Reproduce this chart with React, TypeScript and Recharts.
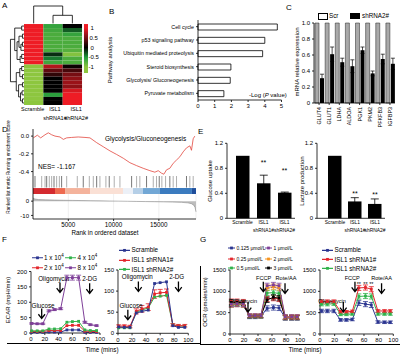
import React from "react";
import {
  BarChart,
  Bar,
  LineChart,
  Line,
  ComposedChart,
  Area,
  Scatter,
  XAxis,
  YAxis,
  ErrorBar,
  ReferenceLine,
  ReferenceArea,
  ReferenceDot,
  CartesianGrid,
} from "recharts";

const FONT = "'Liberation Sans', Arial, sans-serif";
const BLUE = "#2b3590";
const RED = "#e3262c";
const GREEN = "#2fb24a";
const PURPLE = "#7e3f98";
const ORANGE = "#f7941d";

// ---------- A: heatmap ----------
const heatCols = ["Scramble", "ISL1 shRNA1#", "ISL1 shRNA2#"];
const heatScramble = [1, 1, 1, 1, 1, 1, 1, 1, 1, 1, -1, -1, -1, -1, -1, -1, -1, -1, -1, -1];
const heatShRNA1 = [-0.6, -0.65, -0.7, -0.7, -0.7, -0.7, -0.7, -0.15, -0.4, -0.65, 0.75, 0.4, 0.2, 0, 0, 0, 0, -0.55, 0, 0];
const heatShRNA2 = [0, -0.3, -0.6, -0.7, -0.7, -0.7, -0.75, -0.95, -0.7, -0.7, 0.05, 0.3, 0.5, 0.6, 0.65, 0.6, 0.9, 1, 1, 1];
// [left node, right node, height]; leaves are rows 0..19, merges get ids from 20
const rowMerges = [
  [0, 1, 0.12], [2, 3, 0.08], [4, 5, 0.08], [22, 6, 0.16], [21, 23, 0.26],
  [7, 8, 0.12], [25, 9, 0.2], [24, 26, 0.36], [20, 27, 0.48],
  [10, 11, 0.12], [12, 13, 0.08], [29, 30, 0.22], [14, 15, 0.08], [16, 17, 0.1],
  [18, 19, 0.08], [33, 34, 0.18], [32, 35, 0.28], [31, 36, 0.4], [28, 37, 0.7],
];
const colMerges = [[1, 2, 2.0], [0, 3, 4.3]];
// where the column names sit under the heatmap (column units)
const heatLabelAt = [0.45, 1.6, 2.7];

// ---------- B ----------
const pathways = [
  "Cell cycle",
  "p53 signaling pathway",
  "Ubiquitin mediated proteolysis",
  "Steroid biosynthesis",
  "Glycolysis/ Gluconeogenesis",
  "Pyruvate metabolism",
];
const pathwayLogP = [4.75, 4.0, 3.87, 1.97, 1.93, 1.55];

// ---------- C ----------
const genes = ["GLUT4", "GLUT1", "LDHA", "ALDOA", "PGK1", "PKM2", "PFKFB3", "IGFBP3"];
const scrExpr = [1, 1, 1, 1, 1, 1, 1, 1];
const sh2Expr = [0.31, 0.61, 0.51, 0.46, 0.66, 0.37, 0.55, 0.49];
const sh2Err = [0.05, 0.09, 0.05, 0.08, 0.04, 0.03, 0.06, 0.07];

// ---------- D: GSEA ----------
const esRank = [1140, 1580, 1950, 2430, 2790, 3160, 3530, 4080, 4450, 4820, 5370, 6100, 6840, 7390, 8130, 8860, 9600, 10330, 11070, 11800, 12540, 13270, 14010, 14560, 14930, 15290, 15550, 15850, 16210, 16580, 16950, 17320, 17680, 18050, 18420, 18600, 18790, 18970];
const esScore = [-0.02, 0.01, -0.02, 0.015, 0.037, 0.015, 0, -0.01, -0.037, -0.02, -0.015, -0.01, -0.015, -0.02, -0.074, -0.12, -0.167, -0.207, -0.25, -0.3, -0.333, -0.363, -0.39, -0.407, -0.39, -0.418, -0.43, -0.38, -0.363, -0.307, -0.27, -0.233, -0.178, -0.133, -0.11, -0.16, -0.03, 0];
const hitRanks = [1320, 2060, 2430, 2610, 2900, 3160, 3420, 3710, 4010, 4260, 4820, 5990, 6650, 7320, 7760, 8130, 8490, 9150, 9520, 10070, 10700, 11990, 12540, 12900, 13640, 14380, 14740, 15040, 15330, 15740, 16210, 16580, 16950, 18050, 18420, 18790];
const bandEdges = [1100, 3530, 4640, 7400, 11040, 12140, 13250, 15120, 18650, 19100];
const bandColors = ["#d42a2f", "#ee6a50", "#f4b39c", "#fae0d5", "#ecf0f7", "#b5cfe7", "#72a7d5", "#3b7bbf", "#1f4e9b"];
const metricRank = [1100, 1300, 1700, 2500, 3500, 4500, 5500, 6500, 7500, 8500, 9500, 10500, 11500, 12500, 13500, 14500, 15500, 16500, 17500, 18200, 18600, 18850, 19000, 19100];
const metricValue = [2.2, 1.5, 1.1, 0.9, 0.75, 0.6, 0.5, 0.4, 0.3, 0.2, 0.1, 0, -0.1, -0.2, -0.3, -0.4, -0.5, -0.65, -0.85, -1.2, -1.8, -2.8, -4.5, -7.5];

// ---------- E ----------
const eGroups = ["Scramble", "ISL1 shRNA1#", "ISL1 shRNA2#"];
const glucoseUptake = [1.0, 0.56, 0.41];
const glucoseErr = [0, 0.13, 0.01];
const lactateProd = [1.0, 0.27, 0.23];
const lactateErr = [0, 0.06, 0.08];

// ---------- F: ECAR ----------
const fTimes = [1, 9, 17, 26, 34, 43, 52, 60, 69, 78, 86, 95];
const ecar1e4 = [2, 2, 2, 3, 3, 3, 10, 10, 10, 2, 2, 2];
const ecar2e4 = [5, 5, 5, 8, 8, 8, 24, 25, 25, 6, 5, 5];
const ecar4e4 = [7, 7, 7, 13, 13, 14, 35, 37, 38, 10, 8, 8];
const ecar8e4 = [31, 30, 30, 72, 76, 79, 180, 180, 180, 35, 27, 24];
const ecarErr8e4 = [2, 2, 2, 3, 3, 3, 8, 8, 8, 3, 2, 2];
const ecarScr = [15, 14, 14, 48, 52, 55, 118, 120, 122, 18, 14, 14];
const ecarSh1 = [17, 17, 16, 52, 58, 62, 93, 96, 97, 20, 18, 18];
const ecarSh2 = [13, 13, 13, 50, 55, 60, 86, 88, 90, 20, 17, 17];
const ecarSh1Err = [3, 3, 3, 6, 8, 8, 10, 8, 8, 3, 3, 3];

// ---------- G: OCR ----------
const gTimes = [2, 10, 19, 28, 36, 44, 53, 62, 70, 79, 88, 96];
const ocr0125 = [690, 700, 690, 400, 400, 410, 600, 620, 610, 380, 380, 380];
const ocr025 = [760, 760, 750, 430, 430, 430, 820, 840, 820, 400, 400, 400];
const ocr05 = [720, 720, 720, 420, 420, 420, 960, 970, 950, 390, 390, 390];
const ocr1 = [700, 710, 700, 430, 430, 430, 1130, 1150, 1130, 400, 400, 400];
const ocr2 = [690, 700, 690, 420, 420, 420, 1090, 1110, 1090, 390, 390, 390];
const ocr3 = [740, 740, 730, 420, 420, 420, 800, 860, 840, 380, 380, 380];
const ocrLeftErr = [60, 60, 60, 40, 40, 40, 60, 60, 60, 50, 50, 50];
const ocrScr = [540, 540, 540, 330, 330, 340, 730, 700, 680, 280, 275, 275];
const ocrSh1 = [760, 760, 760, 520, 520, 530, 1080, 1090, 1050, 540, 540, 540];
const ocrSh2 = [700, 700, 710, 460, 460, 470, 880, 890, 880, 470, 470, 470];
const ocrRightErr = [40, 40, 40, 30, 30, 30, 60, 60, 60, 30, 30, 30];

// ---------- helpers ----------
const tk = { fontSize: 6, fill: "#000", fontFamily: FONT };
const axisProps = { stroke: "#000", strokeWidth: 0.8, tickSize: 2, tick: tk };

function heatColor(v: number) {
  const mix = (a: number[], b: number[], t: number) => a.map((x, i) => Math.round(x + (b[i] - x) * t));
  let c: number[];
  if (v >= 0) c = mix([0, 0, 0], [238, 28, 37], Math.min(v, 1));
  else if (v > -0.5) c = mix([0, 0, 0], [31, 154, 60], -v / 0.5);
  else c = mix([31, 154, 60], [141, 198, 63], Math.min((-v - 0.5) / 0.5, 1));
  return `rgb(${c.join(",")})`;
}

// dendrogram brackets in (leaf position, height) pairs
function treeSegments(merges: number[][], nLeaves: number) {
  const pos = Array.from({ length: nLeaves }, (_, i) => i + 0.5);
  const hgt: number[] = Array(nLeaves).fill(0);
  const segs: number[][][] = [];
  merges.forEach(([a, b, h]) => {
    segs.push([[pos[a], hgt[a]], [pos[a], h]]);
    segs.push([[pos[a], h], [pos[b], h]]);
    segs.push([[pos[b], h], [pos[b], hgt[b]]]);
    pos.push((pos[a] + pos[b]) / 2);
    hgt.push(h);
  });
  return segs;
}

const Txt = ({ x, y, size = 6, anchor = "start", rot = false, children, style }: any) => {
  const tx = anchor === "middle" || rot ? "-50%" : anchor === "end" ? "-100%" : "0";
  return (
    <div
      style={{
        position: "absolute",
        left: x,
        top: y,
        fontSize: size,
        lineHeight: 1,
        whiteSpace: "nowrap",
        transform: `translate(${tx}, -50%)${rot ? " rotate(-90deg)" : ""}`,
        ...style,
      }}
    >
      {children}
    </div>
  );
};

const Box = ({ x, y, children }: any) => (
  <div style={{ position: "absolute", left: x, top: y }}>{children}</div>
);

const LegendItem = ({ x, y, color, size = 6.3, lineW = 11, children }: any) => (
  <div style={{ position: "absolute", left: x, top: y, transform: "translateY(-50%)", display: "flex", alignItems: "center", fontSize: size, lineHeight: 1, whiteSpace: "nowrap" }}>
    <svg width={lineW} height={5} style={{ marginRight: 1.5 }}>
      <line x1={0} y1={2.5} x2={lineW} y2={2.5} stroke={color} strokeWidth={1.1} />
      <rect x={lineW / 2 - 1.4} y={1.1} width={2.8} height={2.8} fill={color} />
    </svg>
    <span>{children}</span>
  </div>
);

const sqDot = (color: string) => (p: any) =>
  p.cx == null ? <g key={p.index} /> : <rect key={p.index} x={p.cx - 1.4} y={p.cy - 1.4} width={2.8} height={2.8} fill={color} />;

const ArrowShape = (p: any) => (
  <path
    d={`M${p.cx},${p.cy - 10}V${p.cy}M${p.cx - 3.3},${p.cy - 4.3}L${p.cx},${p.cy}L${p.cx + 3.3},${p.cy - 4.3}`}
    stroke="#000"
    strokeWidth={1.3}
    fill="none"
  />
);
const textShape = (label: string, size = 6.3) => (p: any) => (
  <text x={p.cx} y={p.cy} textAnchor="middle" dominantBaseline="central" fontSize={size} fontFamily={FONT} fill="#000">
    {label}
  </text>
);

function renderNotes(list: any[], size: number) {
  return list.flatMap((n, i) => [
    <ReferenceDot key={`a${i}`} x={n.ax} y={n.ay} r={0} shape={ArrowShape} ifOverflow="visible" />,
    <ReferenceDot key={`t${i}`} x={n.tx} y={n.ty} r={0} shape={textShape(n.text, size)} ifOverflow="visible" />,
  ]);
}

// ---------- panels ----------
function Heatmap() {
  const values = [heatScramble, heatShRNA1, heatShRNA2];
  const centers = values.flatMap((col, c) => col.map((_, r) => ({ x: c + 0.5, y: r + 0.5 })));
  const rowSegs = treeSegments(rowMerges, heatScramble.length);
  const colSegs = treeSegments(colMerges, heatCols.length);
  const HeatTick = (p: any) => {
    const lines = heatCols[Math.floor(p.payload.value)].split(" ");
    return (
      <text x={p.x} y={p.y} textAnchor="middle" fontSize={5.5} fontFamily={FONT} fill="#000">
        {lines.map((l, i) => (
          <tspan key={i} x={p.x} dy={i === 0 ? 5.5 : 9.5}>
            {l}
          </tspan>
        ))}
      </text>
    );
  };
  return (
    <ComposedChart width={101} height={124} margin={{ top: 5, right: 12.2, bottom: 0, left: 9.5 }}>
      <defs>
        <linearGradient id="hmGrad" x1="0" y1="0" x2="0" y2="1">
          <stop offset="0" stopColor="#ee1c25" />
          <stop offset="0.08" stopColor="#ee1c25" />
          <stop offset="0.28" stopColor="#771218" />
          <stop offset="0.48" stopColor="#000" />
          <stop offset="0.68" stopColor="#1f9a3c" />
          <stop offset="0.88" stopColor="#8dc63f" />
          <stop offset="1" stopColor="#8dc63f" />
        </linearGradient>
      </defs>
      <XAxis type="number" dataKey="x" domain={[-0.75, 3.35]} ticks={heatLabelAt} interval={0} axisLine={false} tickLine={false} tickSize={0} tickMargin={0} height={19} tick={HeatTick} allowDataOverflow />
      <YAxis type="number" dataKey="y" domain={[-4.7, 20]} reversed hide allowDataOverflow />
      <Scatter data={centers} shape={() => <g />} isAnimationActive={false} />
      {values.flatMap((col, c) =>
        col.map((v, r) => (
          <ReferenceArea key={`c${c}-${r}`} x1={c} x2={c + 1} y1={r} y2={r + 1} fill={heatColor(v)} fillOpacity={1} stroke="none" ifOverflow="visible" />
        ))
      )}
      {rowSegs.map((s, i) => (
        <ReferenceLine key={`r${i}`} segment={[{ x: -s[0][1], y: s[0][0] }, { x: -s[1][1], y: s[1][0] }]} stroke="#000" strokeWidth={0.8} ifOverflow="visible" />
      ))}
      {colSegs.map((s, i) => (
        <ReferenceLine key={`k${i}`} segment={[{ x: s[0][0], y: -s[0][1] - 0.15 }, { x: s[1][0], y: -s[1][1] - 0.15 }]} stroke="#000" strokeWidth={0.8} ifOverflow="visible" />
      ))}
      <ReferenceArea x1={3.1} x2={3.31} y1={0} y2={12.1} fill="url(#hmGrad)" fillOpacity={1} stroke="none" ifOverflow="visible" />
    </ComposedChart>
  );
}

function PathwayChart() {
  const data = pathways.map((name, i) => ({ name, value: pathwayLogP[i] }));
  const PTick = (p: any) => (
    <text x={p.x} y={p.y} textAnchor="end" dominantBaseline="central" fontSize={5.3} fontFamily={FONT} fill="#000">
      {p.payload.value}
    </text>
  );
  return (
    <BarChart layout="vertical" width={182.5} height={97} data={data} margin={{ top: 5, right: 4, bottom: 0, left: 0 }}>
      <XAxis type="number" domain={[0, 5]} ticks={[0, 1, 2, 3, 4, 5]} height={12} {...axisProps} />
      <YAxis type="category" dataKey="name" width={95} interval={0} {...axisProps} tick={PTick} />
      <Bar dataKey="value" fill="#fff" stroke="#000" strokeWidth={0.8} barSize={6} isAnimationActive={false} />
    </BarChart>
  );
}

function ExpressionChart() {
  const data = genes.map((g, i) => ({ g, scr: scrExpr[i], sh: sh2Expr[i], err: sh2Err[i] }));
  const RotTick = (p: any) => (
    <text x={p.x} y={p.y} transform={`rotate(-90 ${p.x} ${p.y})`} textAnchor="end" dominantBaseline="central" fontSize={5.4} fontFamily={FONT} fill="#000">
      {p.payload.value}
    </text>
  );
  return (
    <BarChart width={110} height={133} data={data} margin={{ top: 23, right: 5, bottom: 0, left: 0 }} barGap={1} barCategoryGap={1}>
      <XAxis dataKey="g" interval={0} height={30} {...axisProps} tick={RotTick} />
      <YAxis domain={[0, 1]} ticks={[0, 0.2, 0.4, 0.6, 0.8, 1]} tickFormatter={(v: number) => (v === 0 ? "0" : v.toFixed(1))} width={24} {...axisProps} />
      <Bar dataKey="scr" fill="#a9a9a9" stroke="#222" strokeWidth={0.5} barSize={4} isAnimationActive={false} />
      <Bar dataKey="sh" fill="#000" barSize={4} isAnimationActive={false}>
        <ErrorBar dataKey="err" width={2} stroke="#000" strokeWidth={0.7} direction="y" />
      </Bar>
    </BarChart>
  );
}

function EsChart() {
  const data = esRank.map((rank, i) => ({ rank, es: esScore[i] }));
  return (
    <LineChart width={200} height={56} data={data} margin={{ top: 9, right: 4, bottom: 0, left: 0 }}>
      <XAxis type="number" dataKey="rank" domain={[1100, 19100]} hide />
      <YAxis domain={[-0.45, 0.08]} ticks={[0, -0.1, -0.2, -0.3, -0.4]} tickFormatter={(v: number) => v.toFixed(1)} width={33} {...axisProps} />
      <Line dataKey="es" stroke="#e2463e" strokeWidth={0.8} dot={false} isAnimationActive={false} />
    </LineChart>
  );
}

function HitsChart() {
  const data = hitRanks.map((rank) => ({ rank, y: 0.7 }));
  return (
    <ComposedChart width={200} height={18} data={data} margin={{ top: 0, right: 4, bottom: 0, left: 0 }}>
      <XAxis type="number" dataKey="rank" domain={[1100, 19100]} hide />
      <YAxis type="number" dataKey="y" domain={[0, 1]} width={33} tick={false} tickLine={false} stroke="#000" strokeWidth={0.8} />
      <Scatter data={data} shape={() => <g />} isAnimationActive={false} />
      {bandColors.map((c, i) => (
        <ReferenceArea key={`b${i}`} x1={bandEdges[i]} x2={bandEdges[i + 1]} y1={0} y2={0.33} fill={c} fillOpacity={1} stroke="none" />
      ))}
      {hitRanks.map((r, i) => (
        <ReferenceLine key={`h${i}`} segment={[{ x: r, y: 0.36 }, { x: r, y: 1 }]} stroke={i % 3 === 0 ? "#555" : "#9a9a9a"} strokeWidth={0.8} />
      ))}
    </ComposedChart>
  );
}

function MetricChart() {
  const data = metricRank.map((rank, i) => ({ rank, m: metricValue[i] }));
  return (
    <ComposedChart width={200} height={43} data={data} margin={{ top: 4, right: 4, bottom: 0, left: 0 }}>
      <CartesianGrid horizontal={false} stroke="#e6e6e6" strokeWidth={0.6} />
      <XAxis type="number" dataKey="rank" domain={[1100, 19100]} ticks={[5000, 10000, 15000]} height={14} {...axisProps} tick={{ ...tk, fontSize: 6.3 }} />
      <YAxis domain={[-12.5, 5]} ticks={[5, 0, -5, -10]} width={33} {...axisProps} />
      <Area dataKey="m" baseValue={0} stroke="#8c8c8c" strokeWidth={0.6} fill="#bdbdbd" fillOpacity={1} isAnimationActive={false} />
    </ComposedChart>
  );
}

function EBarChart({ values, errs, stars, padLeft }: any) {
  const data = eGroups.map((g, i) => ({ g, v: values[i], e: errs[i] }));
  const ETick = (p: any) => {
    const lines = p.payload.value.split(" ");
    return (
      <text x={p.x} y={p.y} textAnchor="middle" fontSize={4.9} fontFamily={FONT} fill="#000">
        {lines.map((l: string, i: number) => (
          <tspan key={i} x={p.x} dy={i === 0 ? 5.2 : 8}>
            {l}
          </tspan>
        ))}
      </text>
    );
  };
  return (
    <BarChart width={98} height={100} data={data} margin={{ top: 8.3, right: 3, bottom: 0, left: 0 }}>
      <XAxis dataKey="g" interval={0} height={16.7} stroke="#000" strokeWidth={0.8} tickLine={false} tickSize={0} tickMargin={0} tick={ETick} padding={{ left: padLeft, right: 0 }} />
      <YAxis domain={[0, 1.2]} ticks={[0, 0.4, 0.8, 1.2]} tickFormatter={(v: number) => (v === 0 ? "0" : v.toFixed(1))} width={27} {...axisProps} />
      <Bar dataKey="v" fill="#000" barSize={13.5} isAnimationActive={false}>
        <ErrorBar dataKey="e" width={4} stroke="#000" strokeWidth={0.8} direction="y" />
      </Bar>
      {stars.map((s: number, i: number) =>
        s == null ? null : <ReferenceDot key={i} x={eGroups[i]} y={s} r={0} shape={textShape("**", 7)} ifOverflow="visible" />
      )}
    </BarChart>
  );
}

function TimeChart({ times, series, domain, yTicks, yWidth, width, height, top, notes, noteSize = 6.3, extra }: any) {
  const data = times.map((t: number, i: number) => {
    const row: any = { t };
    series.forEach((s: any) => {
      row[s.key] = s.vals[i];
      if (s.err) row[s.key + "e"] = s.err[i];
    });
    return row;
  });
  return (
    <LineChart width={width} height={height} data={data} margin={{ top, right: 6, bottom: 0, left: 0 }}>
      <XAxis type="number" dataKey="t" domain={[0, 100]} ticks={[0, 20, 40, 60, 80, 100]} height={12} {...axisProps} />
      <YAxis domain={domain} ticks={yTicks} width={yWidth} {...axisProps} />
      {series.map((s: any) => (
        <Line key={s.key} dataKey={s.key} stroke={s.color} strokeWidth={1} dot={sqDot(s.color)} isAnimationActive={false}>
          {s.err ? <ErrorBar dataKey={s.key + "e"} width={2.5} stroke={s.color} strokeWidth={0.8} direction="y" /> : null}
        </Line>
      ))}
      {renderNotes(notes, noteSize)}
      {extra}
    </LineChart>
  );
}

const fLeftNotes = [
  { text: "Glucose", tx: 17.5, ty: 90, ax: 15.5, ay: 47 },
  { text: "Oligomycin", tx: 33, ty: 178, ax: 42, ay: 132 },
  { text: "2-DG", tx: 85, ty: 178, ax: 85, ay: 129 },
];
const fRightNotes = [
  { text: "Glucose", tx: 18.5, ty: 67, ax: 14, ay: 32 },
  { text: "Oligomycin", tx: 27.5, ty: 135, ax: 29, ay: 99 },
  { text: "2-DG", tx: 83.5, ty: 135, ax: 86, ay: 99 },
];
const gLeftNotes = [
  { text: "Oligomycin", tx: 19, ty: 773, ax: 25.7, ay: 515 },
  { text: "FCCP", tx: 48, ty: 1305, ax: 47.6, ay: 990 },
  { text: "Rote/AA", tx: 80, ty: 1305, ax: 78.6, ay: 953 },
];
const gRightNotes = [
  { text: "Oligomycin", tx: 16.4, ty: 773, ax: 31.8, ay: 515 },
  { text: "FCCP", tx: 44, ty: 1305, ax: 47.7, ay: 990 },
  { text: "Rote/AA", tx: 84, ty: 1305, ax: 84, ay: 953 },
];

export default function App() {
  const fLeftSeries = [
    { key: "a", color: BLUE, vals: ecar1e4 },
    { key: "b", color: RED, vals: ecar2e4 },
    { key: "c", color: GREEN, vals: ecar4e4 },
    { key: "d", color: PURPLE, vals: ecar8e4, err: ecarErr8e4 },
  ];
  const fRightSeries = [
    { key: "s2", color: GREEN, vals: ecarSh2 },
    { key: "s1", color: RED, vals: ecarSh1, err: ecarSh1Err },
    { key: "sc", color: BLUE, vals: ecarScr },
  ];
  const gLeftSeries = [
    { key: "a", color: BLUE, vals: ocr0125, err: ocrLeftErr },
    { key: "b", color: RED, vals: ocr025, err: ocrLeftErr },
    { key: "c", color: GREEN, vals: ocr05, err: ocrLeftErr },
    { key: "f", color: "#000", vals: ocr3, err: ocrLeftErr },
    { key: "e", color: ORANGE, vals: ocr2, err: ocrLeftErr },
    { key: "d", color: PURPLE, vals: ocr1, err: ocrLeftErr },
  ];
  const gRightSeries = [
    { key: "sc", color: BLUE, vals: ocrScr, err: ocrRightErr },
    { key: "s2", color: GREEN, vals: ocrSh2, err: ocrRightErr },
    { key: "s1", color: RED, vals: ocrSh1, err: ocrRightErr },
  ];
  const gStars = [53, 62, 70].map((t) => (
    <ReferenceDot key={`st${t}`} x={t} y={1180} r={0} shape={textShape("**", 5.5)} ifOverflow="visible" />
  ));

  return (
    <div style={{ position: "absolute", left: 0, top: 0, width: 400, height: 356, overflow: "hidden", background: "#fff", color: "#000", fontFamily: FONT }}>
      {/* panel letters */}
      <Txt x={2} y={6} size={8}>A</Txt>
      <Txt x={109} y={12} size={8}>B</Txt>
      <Txt x={286} y={8} size={8}>C</Txt>
      <Txt x={2} y={130} size={8}>D</Txt>
      <Txt x={198} y={132} size={8}>E</Txt>
      <Txt x={2} y={240} size={8}>F</Txt>
      <Txt x={200} y={240} size={8}>G</Txt>

      {/* A */}
      <Box x={0} y={0}>
        <Heatmap />
      </Box>
      <Txt x={90.5} y={28}>1</Txt>
      <Txt x={89.5} y={38}>0.5</Txt>
      <Txt x={90.5} y={47.5}>0</Txt>
      <Txt x={88.5} y={57}>-0.5</Txt>
      <Txt x={88.5} y={67}>-1</Txt>

      {/* B */}
      <Box x={103} y={15}>
        <PathwayChart />
      </Box>
      <Txt x={110} y={60} rot>Pathway analysis</Txt>
      <Txt x={249} y={95}>
        -Log (<i>P</i> value)
      </Txt>

      {/* C */}
      <Box x={290} y={0}>
        <ExpressionChart />
      </Box>
      <div style={{ position: "absolute", left: 318, top: 13, width: 8, height: 5, border: "0.8px solid #000", background: "#fff" }} />
      <Txt x={329} y={15.8} size={6.3}>Scr</Txt>
      <div style={{ position: "absolute", left: 350, top: 13, width: 10, height: 6, background: "#000" }} />
      <Txt x={362} y={15.8} size={6.3}>shRNA2#</Txt>
      <Txt x={297} y={62} rot>mRNA relative expression</Txt>

      {/* D */}
      <Box x={0} y={120}>
        <EsChart />
      </Box>
      <Box x={0} y={176}>
        <HitsChart />
      </Box>
      <Box x={0} y={190}>
        <MetricChart />
      </Box>
      <Txt x={105} y={139} size={6.5}>Glycolysis/Gluconeogenesis</Txt>
      <Txt x={38} y={167} size={6.5}>NES= -1.167</Txt>
      <Txt x={8.5} y={167} size={4.7} rot>Ranked list metric Running enrichment score</Txt>
      <Txt x={105} y={233} size={6.3} anchor="middle">Rank in ordered dataset</Txt>

      {/* E */}
      <Box x={200} y={135}>
        <EBarChart values={glucoseUptake} errs={glucoseErr} stars={[null, 0.9, 0.76]} padLeft={5} />
      </Box>
      <Box x={290} y={135}>
        <EBarChart values={lactateProd} errs={lactateErr} stars={[null, 0.4, 0.38]} padLeft={8} />
      </Box>
      <Txt x={210} y={181} rot>Glucose uptake</Txt>
      <Txt x={302} y={181} rot>Lactate production</Txt>

      {/* F */}
      <Box x={0} y={265}>
        <TimeChart times={fTimes} series={fLeftSeries} domain={[0, 200]} yTicks={[0, 50, 100, 150, 200]} yWidth={31} width={106} height={80} top={6.5} notes={fLeftNotes} />
      </Box>
      <Box x={90} y={264}>
        <TimeChart times={fTimes} series={fRightSeries} domain={[0, 150]} yTicks={[0, 50, 100, 150]} yWidth={28} width={104.3} height={81.3} top={6} notes={fRightNotes} />
      </Box>
      <LegendItem x={31.5} y={257.7} color={BLUE}>1 x 10<sup style={{ fontSize: 4.5 }}>4</sup></LegendItem>
      <LegendItem x={65} y={257.7} color={GREEN}>4 x 10<sup style={{ fontSize: 4.5 }}>4</sup></LegendItem>
      <LegendItem x={31.5} y={268.3} color={RED}>2 x 10<sup style={{ fontSize: 4.5 }}>4</sup></LegendItem>
      <LegendItem x={65} y={268.3} color={PURPLE}>8 x 10<sup style={{ fontSize: 4.5 }}>4</sup></LegendItem>
      <LegendItem x={119} y={250} color={BLUE}>Scramble</LegendItem>
      <LegendItem x={119} y={260} color={RED}>ISL1 shRNA1#</LegendItem>
      <LegendItem x={119} y={269.5} color={GREEN}>ISL1 shRNA2#</LegendItem>
      <Txt x={8} y={300} rot>ECAR (mpH/min)</Txt>
      <div style={{ position: "absolute", left: 7, top: 343, width: 193, height: 0, borderTop: "0.8px solid #000" }} />
      <Txt x={102} y={350} size={6.3} anchor="middle">Time (mins)</Txt>

      {/* G */}
      <Box x={200} y={264}>
        <TimeChart times={gTimes} series={gLeftSeries} domain={[0, 1500]} yTicks={[0, 500, 1000, 1500]} yWidth={30} width={106} height={82} top={6} notes={gLeftNotes} noteSize={5.6} />
      </Box>
      <Box x={290} y={264}>
        <TimeChart times={gTimes} series={gRightSeries} domain={[0, 1500]} yTicks={[0, 500, 1000, 1500]} yWidth={30} width={109.3} height={82} top={6} notes={gRightNotes} noteSize={5.6} extra={gStars} />
      </Box>
      <LegendItem x={228} y={248.3} color={BLUE} size={5} lineW={7}>0.125 μmol/L</LegendItem>
      <LegendItem x={228} y={258.5} color={RED} size={5} lineW={7}>0.25 μmol/L</LegendItem>
      <LegendItem x={228} y={268.3} color={GREEN} size={5} lineW={7}>0.5 μmol/L</LegendItem>
      <LegendItem x={265} y={248.3} color={PURPLE} size={5} lineW={7}>1 μmol/L</LegendItem>
      <LegendItem x={265} y={258.5} color={ORANGE} size={5} lineW={7}>2 μmol/L</LegendItem>
      <LegendItem x={265} y={268.3} color="#000" size={5} lineW={7}>3 μmol/L</LegendItem>
      <LegendItem x={322} y={250} color={BLUE}>Scramble</LegendItem>
      <LegendItem x={322} y={259.5} color={RED}>ISL1 shRNA1#</LegendItem>
      <LegendItem x={322} y={268.5} color={GREEN}>ISL1 shRNA2#</LegendItem>
      <Txt x={205} y={302} rot>OCR (pmoles/min)</Txt>
      <div style={{ position: "absolute", left: 200, top: 266, width: 200, height: 78, borderLeft: "1px solid #000", borderBottom: "1px solid #000" }} />
      <Txt x={305} y={350} size={6.3} anchor="middle">Time (mins)</Txt>
    </div>
  );
}
